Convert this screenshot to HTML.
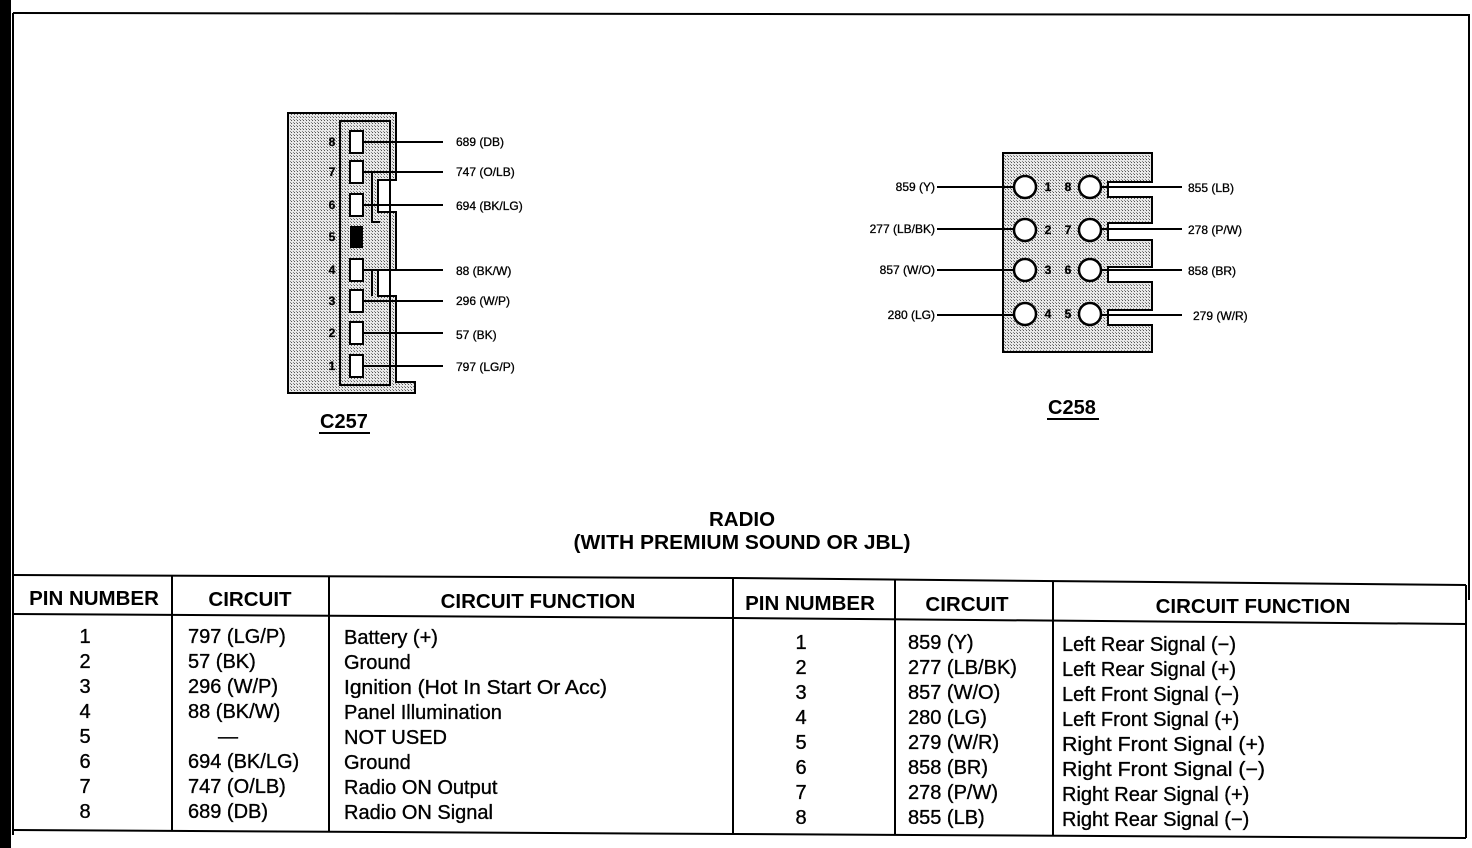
<!DOCTYPE html>
<html><head><meta charset="utf-8"><style>
html,body{margin:0;padding:0;background:#fff;}
svg{display:block;font-family:"Liberation Sans",Arial,sans-serif;}
.s{font-size:12px;fill:#000;stroke:#000;stroke-width:0.3;}
.t{font-size:20px;fill:#000;stroke:#000;stroke-width:0.35;}
.h{font-size:20.5px;font-weight:bold;fill:#000;}
</style></head><body>
<svg width="1472" height="848" viewBox="0 0 1472 848">
<defs>
<pattern id="dots" width="3" height="3" patternUnits="userSpaceOnUse">
<rect width="3" height="3" fill="#e8e8e8"/><rect width="1" height="1" fill="#555"/><rect x="2" y="2" width="1" height="1" fill="#888"/>
</pattern>
</defs>
<rect x="0" y="0" width="1472" height="848" fill="#fff"/>
<rect x="0" y="0" width="11" height="848" fill="#000"/>
<line x1="13" y1="13" x2="1470" y2="15" stroke="#000" stroke-width="2"/>
<line x1="13" y1="13" x2="13" y2="835" stroke="#000" stroke-width="2"/>
<line x1="1469" y1="15" x2="1469" y2="600" stroke="#000" stroke-width="2"/>

<!-- C257 -->
<polygon points="288,113 396,113 396,180 378,180 378,212 396,212 396,270 378,270 378,296 396,296 396,382 415,382 415,393 288,393" fill="url(#dots)" stroke="#000" stroke-width="2"/>
<rect x="340" y="121" width="50" height="264" fill="none" stroke="#000" stroke-width="2"/>
<polyline points="372,172 372,222 380,222" fill="none" stroke="#000" stroke-width="2"/>
<polyline points="372,270 372,296" fill="none" stroke="#000" stroke-width="2"/>
<g fill="#fff" stroke="#000" stroke-width="2">
<rect x="350" y="131" width="13" height="22"/>
<rect x="350" y="161" width="13" height="22"/>
<rect x="350" y="194" width="13" height="22"/>
<rect x="350" y="259" width="13" height="22"/>
<rect x="350" y="290" width="13" height="22"/>
<rect x="350" y="322" width="13" height="22"/>
<rect x="350" y="355" width="13" height="22"/>
</g>
<rect x="350" y="226" width="13" height="22" fill="#000"/>
<g class="s" font-weight="bold" text-anchor="middle">
<text x="332" y="146">8</text><text x="332" y="176">7</text><text x="332" y="209">6</text><text x="332" y="241">5</text>
<text x="332" y="274">4</text><text x="332" y="305">3</text><text x="332" y="337">2</text><text x="332" y="370">1</text>
</g>
<g stroke="#000" stroke-width="2">
<line x1="363" y1="142" x2="443" y2="142"/><line x1="363" y1="172" x2="443" y2="172"/>
<line x1="363" y1="205" x2="443" y2="205"/><line x1="363" y1="270" x2="443" y2="270"/>
<line x1="363" y1="301" x2="443" y2="301"/><line x1="363" y1="333" x2="443" y2="333"/>
<line x1="363" y1="366" x2="443" y2="366"/>
</g>
<g class="s">
<text x="456" y="146">689 (DB)</text><text x="456" y="176">747 (O/LB)</text><text x="456" y="210">694 (BK/LG)</text>
<text x="456" y="275">88 (BK/W)</text><text x="456" y="305">296 (W/P)</text><text x="456" y="339">57 (BK)</text>
<text x="456" y="371">797 (LG/P)</text>
</g>
<text x="320" y="428" font-size="20" font-weight="bold">C257</text>
<line x1="319" y1="433" x2="370" y2="433" stroke="#000" stroke-width="2"/>

<!-- C258 -->
<polygon points="1003,153 1152,153 1152,182 1108,182 1108,197 1152,197 1152,223 1108,223 1108,240 1152,240 1152,267 1108,267 1108,282 1152,282 1152,310 1108,310 1108,325 1152,325 1152,352 1003,352" fill="url(#dots)" stroke="#000" stroke-width="2"/>
<g fill="#fff" stroke="#000" stroke-width="2.5">
<circle cx="1025" cy="187" r="11"/><circle cx="1025" cy="230" r="11"/><circle cx="1025" cy="270" r="11"/><circle cx="1025" cy="314" r="11"/>
<circle cx="1090" cy="187" r="11"/><circle cx="1090" cy="230" r="11"/><circle cx="1090" cy="270" r="11"/><circle cx="1090" cy="314" r="11"/>
</g>
<g class="s" font-weight="bold" text-anchor="middle">
<text x="1048" y="191">1</text><text x="1048" y="234">2</text><text x="1048" y="274">3</text><text x="1048" y="318">4</text>
<text x="1068" y="191">8</text><text x="1068" y="234">7</text><text x="1068" y="274">6</text><text x="1068" y="318">5</text>
</g>
<g stroke="#000" stroke-width="2">
<line x1="937" y1="187" x2="1014" y2="187"/><line x1="937" y1="229" x2="1014" y2="229"/>
<line x1="937" y1="270" x2="1014" y2="270"/><line x1="937" y1="315" x2="1014" y2="315"/>
<line x1="1101" y1="187" x2="1182" y2="187"/><line x1="1101" y1="229" x2="1182" y2="229"/>
<line x1="1101" y1="270" x2="1182" y2="270"/><line x1="1101" y1="315" x2="1182" y2="315"/>
</g>
<g class="s" text-anchor="end">
<text x="935" y="191">859 (Y)</text><text x="935" y="233">277 (LB/BK)</text><text x="935" y="274">857 (W/O)</text><text x="935" y="319">280 (LG)</text>
</g>
<g class="s">
<text x="1188" y="192">855 (LB)</text><text x="1188" y="234">278 (P/W)</text><text x="1188" y="275">858 (BR)</text><text x="1193" y="320">279 (W/R)</text>
</g>
<text x="1048" y="414" font-size="20" font-weight="bold">C258</text>
<line x1="1047" y1="419" x2="1099" y2="419" stroke="#000" stroke-width="2"/>

<!-- title -->
<text x="742" y="526" font-size="20.5" font-weight="bold" text-anchor="middle">RADIO</text>
<text x="742" y="549" font-size="20.5" font-weight="bold" text-anchor="middle" textLength="337" lengthAdjust="spacingAndGlyphs">(WITH PREMIUM SOUND OR JBL)</text>

<!-- table -->
<g stroke="#000" stroke-width="2" fill="none">
<polyline points="13,575 735,578 1466,585"/>
<polyline points="13,614 735,618 1466,624"/>
<polyline points="13,830 735,834 1466,838"/>
<line x1="1466" y1="585" x2="1466" y2="838"/>
<line x1="172" y1="576" x2="172" y2="831"/>
<line x1="329" y1="576" x2="329" y2="831"/>
<line x1="733" y1="578" x2="733" y2="834"/>
<line x1="895" y1="580" x2="895" y2="835"/>
<line x1="1053" y1="582" x2="1053" y2="836"/>
</g>
<g class="h" text-anchor="middle">
<text x="94" y="605">PIN NUMBER</text><text x="250" y="606">CIRCUIT</text><text x="538" y="608">CIRCUIT FUNCTION</text>
<text x="810" y="610">PIN NUMBER</text><text x="967" y="611">CIRCUIT</text><text x="1253" y="613">CIRCUIT FUNCTION</text>
</g>
<g class="t" text-anchor="middle">
<text x="85" y="643">1</text><text x="85" y="668">2</text><text x="85" y="693">3</text><text x="85" y="718">4</text>
<text x="85" y="743">5</text><text x="85" y="768">6</text><text x="85" y="793">7</text><text x="85" y="818">8</text>
<text x="801" y="649">1</text><text x="801" y="674">2</text><text x="801" y="699">3</text><text x="801" y="724">4</text>
<text x="801" y="749">5</text><text x="801" y="774">6</text><text x="801" y="799">7</text><text x="801" y="824">8</text>
</g>
<g class="t">
<text x="188" y="643">797 (LG/P)</text><text x="188" y="668">57 (BK)</text><text x="188" y="693">296 (W/P)</text><text x="188" y="718">88 (BK/W)</text>
<text x="218" y="743">—</text><text x="188" y="768">694 (BK/LG)</text><text x="188" y="793">747 (O/LB)</text><text x="188" y="818">689 (DB)</text>
<text x="344" y="644">Battery (+)</text><text x="344" y="669">Ground</text><text x="344" y="694" textLength="263" lengthAdjust="spacingAndGlyphs">Ignition (Hot In Start Or Acc)</text><text x="344" y="719">Panel Illumination</text>
<text x="344" y="744">NOT USED</text><text x="344" y="769">Ground</text><text x="344" y="794">Radio ON Output</text><text x="344" y="819">Radio ON Signal</text>
<text x="908" y="649">859 (Y)</text><text x="908" y="674">277 (LB/BK)</text><text x="908" y="699">857 (W/O)</text><text x="908" y="724">280 (LG)</text>
<text x="908" y="749">279 (W/R)</text><text x="908" y="774">858 (BR)</text><text x="908" y="799">278 (P/W)</text><text x="908" y="824">855 (LB)</text>
<text x="1062" y="651">Left Rear Signal (−)</text><text x="1062" y="676">Left Rear Signal (+)</text><text x="1062" y="701">Left Front Signal (−)</text><text x="1062" y="726">Left Front Signal (+)</text>
<text x="1062" y="751" textLength="203" lengthAdjust="spacingAndGlyphs">Right Front Signal (+)</text><text x="1062" y="776" textLength="203" lengthAdjust="spacingAndGlyphs">Right Front Signal (−)</text><text x="1062" y="801">Right Rear Signal (+)</text><text x="1062" y="826">Right Rear Signal (−)</text>
</g>
</svg>
</body></html>
